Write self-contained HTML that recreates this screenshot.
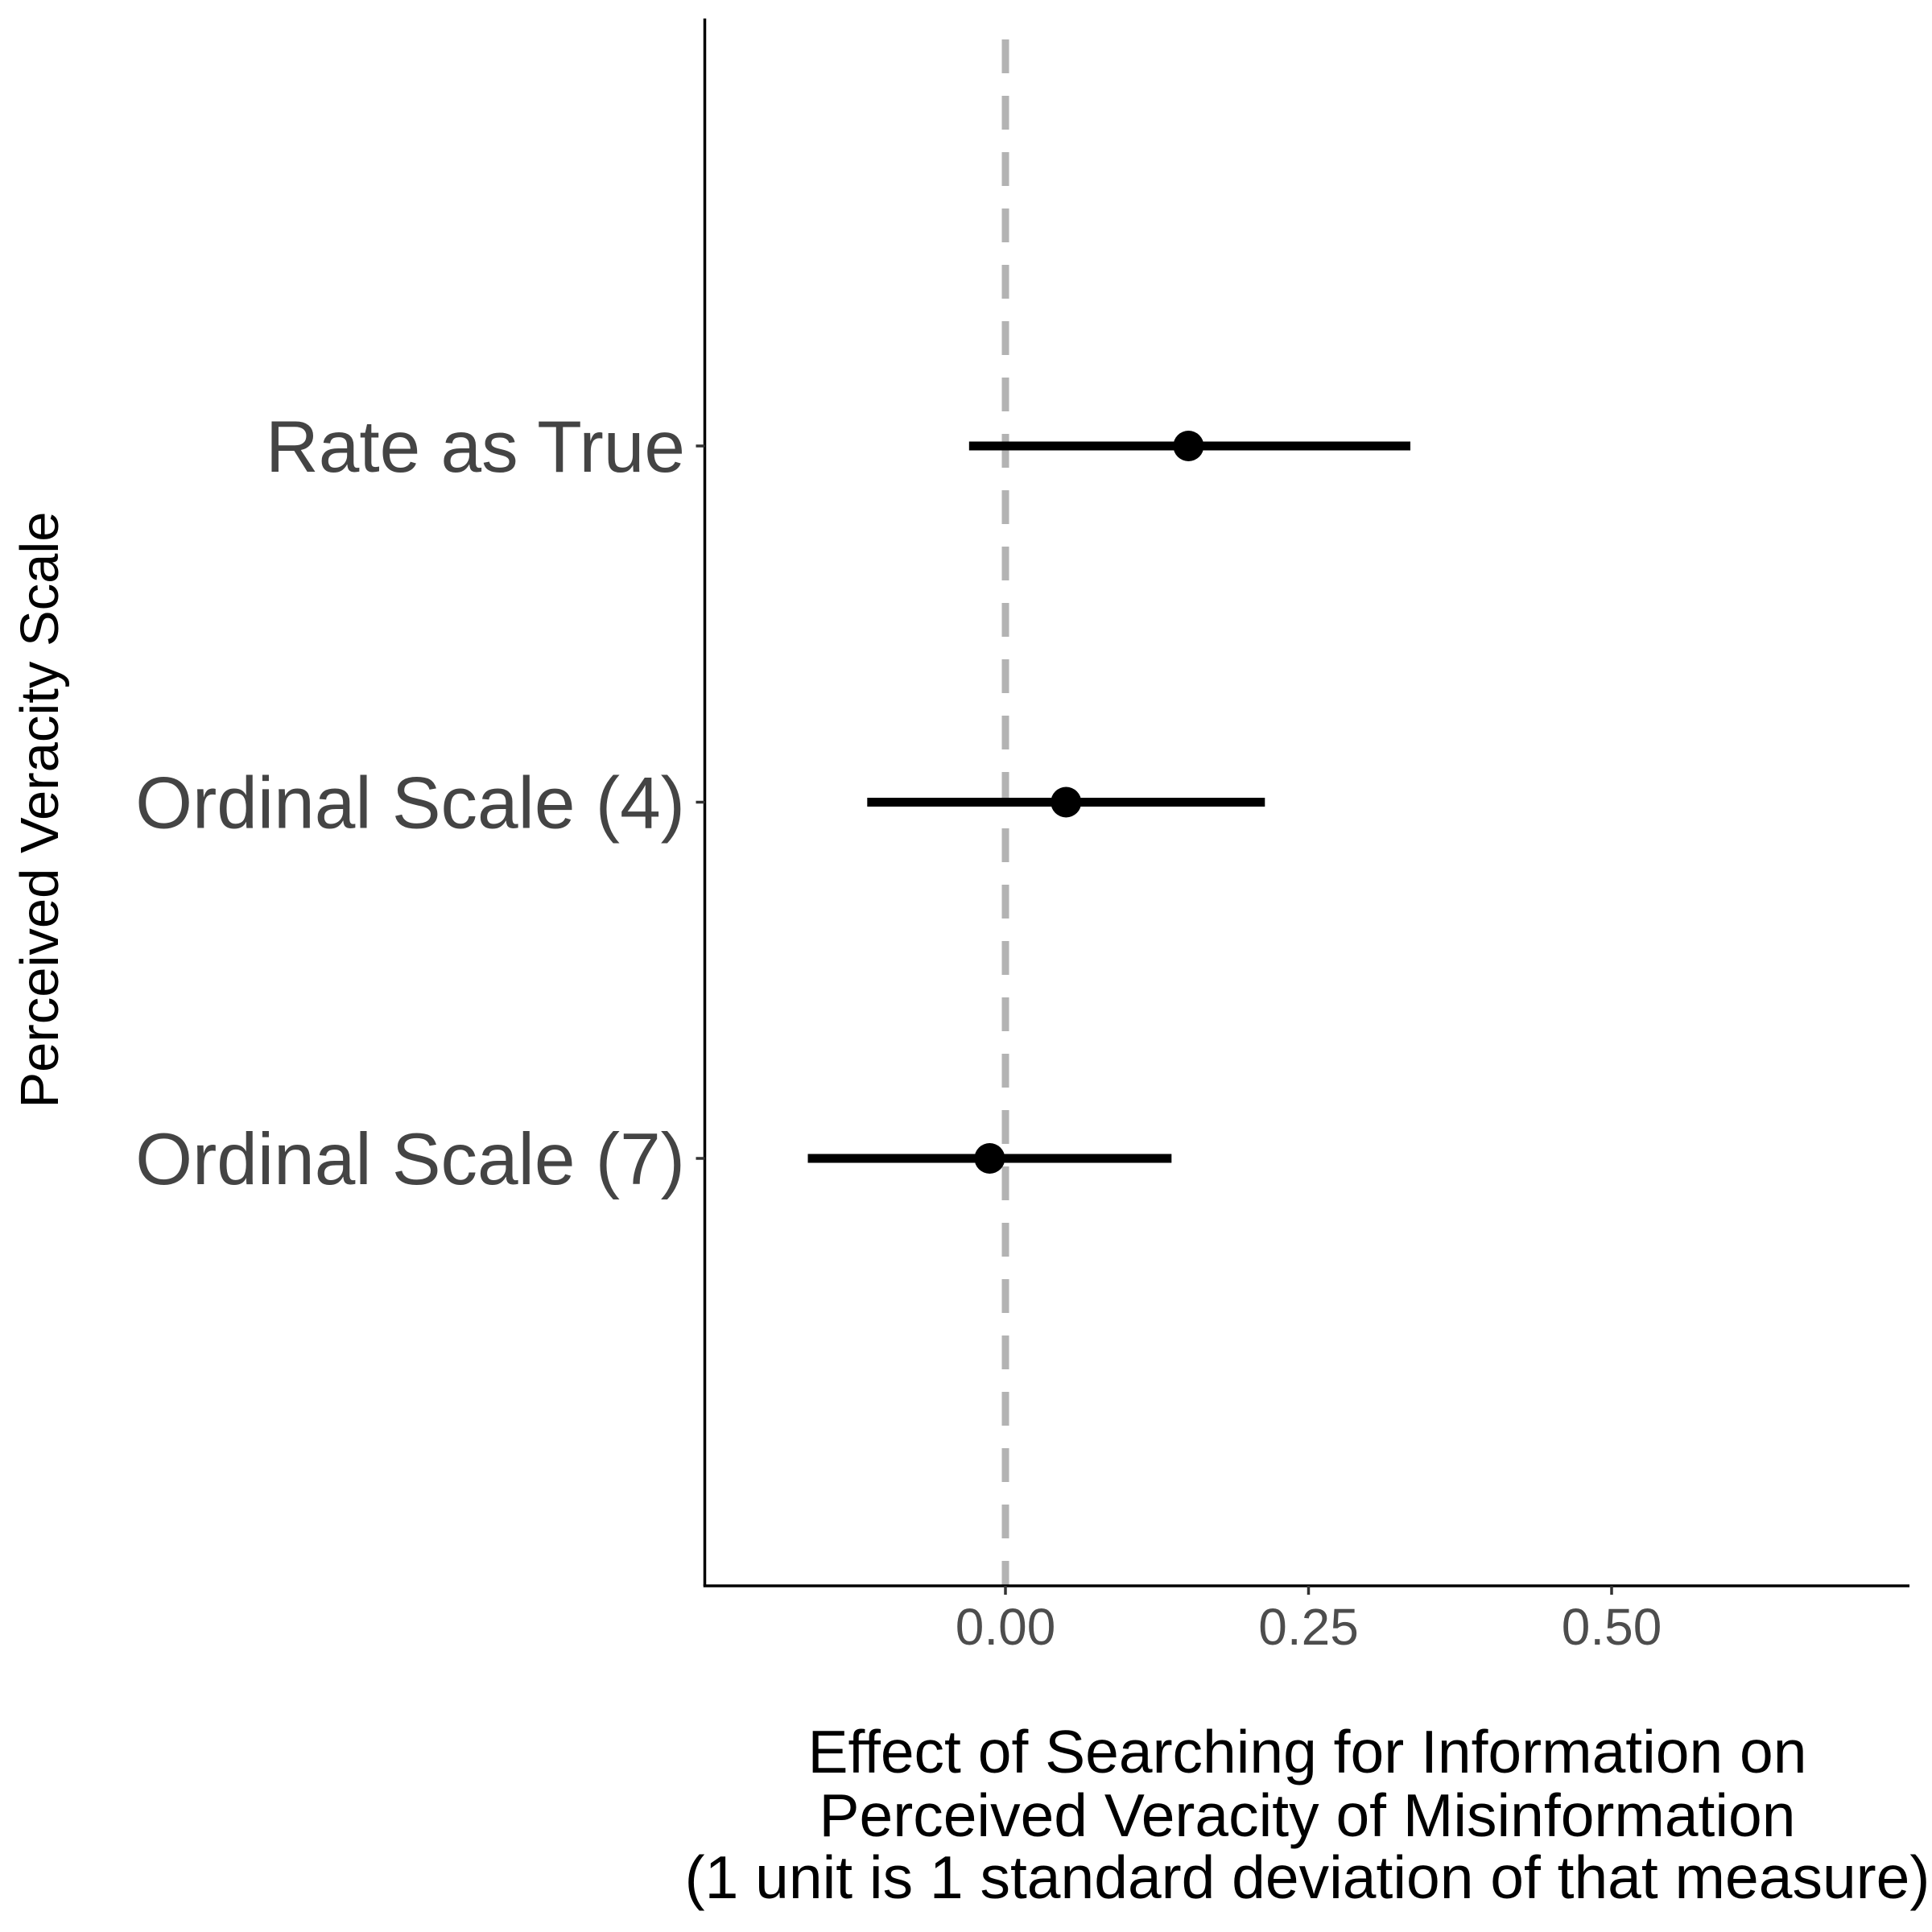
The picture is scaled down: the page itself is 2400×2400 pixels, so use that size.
<!DOCTYPE html>
<html><head><meta charset="utf-8"><style>
html,body{margin:0;padding:0;background:#fff;}
svg{display:block;font-family:"Liberation Sans",sans-serif;}
</style></head><body>
<svg id="chart" width="2400" height="2400" viewBox="0 0 2400 2400" xmlns="http://www.w3.org/2000/svg">
<g id="plot"></g>
</svg>
<script>
const categories = ["Rate as True", "Ordinal Scale (4)", "Ordinal Scale (7)"];
const estimates = [0.151, 0.050, -0.013];
const lowers = [-0.030, -0.114, -0.163];
const uppers = [0.334, 0.214, 0.137];
const xTicks = [0, 0.25, 0.5];
const xTickLabels = ["0.00", "0.25", "0.50"];

const NS = "http://www.w3.org/2000/svg";
const plotG = document.getElementById('plot');
const pLeft = 875.5, pRight = 2372, pTop = 23, pBottom = 1970;
const sx = v => 1249 + v * 1506;
const sy = i => 554 + i * 442.5;
function mk(tag, attrs, parent) {
  const e = document.createElementNS(NS, tag);
  for (const k in attrs) e.setAttribute(k, attrs[k]);
  (parent || plotG).appendChild(e);
  return e;
}
let zl = mk('line', {x1: sx(0), x2: sx(0), y1: 49, y2: pBottom, stroke: '#b3b3b3', 'stroke-width': 9, 'stroke-dasharray': '42 28'});


let ya = mk('line', {x1: pLeft, x2: pLeft, y1: pTop, y2: pBottom, stroke: '#000', 'stroke-width': 3.5});


let xa = mk('line', {x1: pLeft - 1.75, x2: pRight, y1: pBottom, y2: pBottom, stroke: '#000', 'stroke-width': 3.5});


xTicks.forEach((t, i) => {
  let tk = mk('line', {x1: sx(t), x2: sx(t), y1: pBottom, y2: pBottom + 11, stroke: '#333', 'stroke-width': 3.5});
  
  
  let tl = mk('text', {x: sx(t), y: 2043, 'text-anchor': 'middle', 'font-size': 64, fill: '#4d4d4d'});
  tl.textContent = xTickLabels[i];
  
  
});
categories.forEach((c, i) => {
  let tk = mk('line', {x1: pLeft - 11, x2: pLeft, y1: sy(i), y2: sy(i), stroke: '#333', 'stroke-width': 3.5});
  
  
  let tl = mk('text', {x: 851, y: sy(i) + 32, 'text-anchor': 'end', 'font-size': 91, fill: '#444'});
  tl.textContent = c;
  
  
  let ci = mk('line', {x1: sx(lowers[i]), x2: sx(uppers[i]), y1: sy(i), y2: sy(i), stroke: '#000', 'stroke-width': 11});
  
  
  let pt = mk('circle', {cx: sx(estimates[i]), cy: sy(i), r: 19, fill: '#000'});
  
  
});
const xt = mk('text', {'text-anchor': 'middle', 'font-size': 75, fill: '#000'});


[["Effect of Searching for Information on", 2202], ["Perceived Veracity of Misinformation", 2281], ["(1 unit is 1 standard deviation of that measure)", 2358]].forEach(([s, yy]) => {
  const ts = mk('tspan', {x: 1624, y: yy}, xt);
  ts.textContent = s;
});
const yt = mk('text', {'text-anchor': 'middle', 'font-size': 67, fill: '#000', transform: 'translate(72,1006) rotate(-90)'});
yt.textContent = "Perceived Veracity Scale";


</script>
</body></html>
